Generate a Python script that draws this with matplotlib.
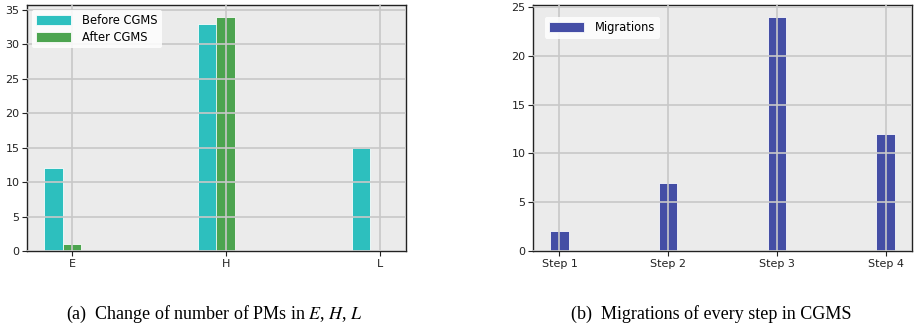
import matplotlib.pyplot as plt
import numpy as np

plt.rcParams['mathtext.fontset'] = 'stix'

groups = ["E", "H", "L"]
before_cgms = [12, 33, 15]
after_cgms = [1, 34, 0]

steps = ["Step 1", "Step 2", "Step 3", "Step 4"]
migrations = [2, 7, 24, 12]

bg = "#EBEBEB"
grid_col = "#C8C8C8"


def style_axes(ax):
    ax.set_facecolor(bg)
    ax.grid(True, color=grid_col, linewidth=1.2)
    ax.set_axisbelow(False)
    for s in ax.spines.values():
        s.set_color("#222222")
        s.set_linewidth(1.0)
    ax.tick_params(labelsize=8, length=3.5, width=0.8, colors="#222222", pad=2)


fig = plt.figure(figsize=(9.14, 3.30), dpi=100)

# (a) PMs in E, H, L
ax1 = fig.add_axes([27/914, 1 - 251/330, (406-27)/914, (251-5)/330])
w = 0.12
x = np.arange(len(groups))
ax1.bar(x - w, before_cgms, w, color="#23BDBC", edgecolor="white", linewidth=0.6, alpha=0.95, label="Before CGMS")
ax1.bar(x, after_cgms, w, color="#43A047", edgecolor="white", linewidth=0.6, alpha=0.95, label="After CGMS")
ax1.set_xticks(x)
ax1.set_xticklabels(groups)
style_axes(ax1)
ax1.legend(loc="upper left", fontsize=8.3, frameon=True, facecolor="white", edgecolor="none",
           framealpha=0.85, handlelength=3.0, handleheight=1.0, borderaxespad=0.4,
           labelspacing=0.3, handletextpad=1.0)

# (b) migrations per step
ax2 = fig.add_axes([533/914, 1 - 251/330, (912-533)/914, (251-5)/330])
x2 = np.arange(len(steps))
ax2.bar(x2, migrations, 0.17, color="#3B45A2", edgecolor="white", linewidth=0.6, alpha=0.95, label="Migrations")
ax2.set_xticks(x2)
ax2.set_xticklabels(steps)
style_axes(ax2)
ax2.legend(loc="upper left", fontsize=8.3, frameon=True, facecolor="white", edgecolor="none",
           framealpha=0.85, handlelength=3.0, handleheight=1.0, borderaxespad=1.0,
           handletextpad=1.0)

fig.text(215/914, 1 - 314/330, r"(a)  Change of number of PMs in $E$, $H$, $L$",
         ha="center", va="center", fontsize=13, family="Liberation Serif")
fig.text(711/914, 1 - 314/330, "(b)  Migrations of every step in CGMS",
         ha="center", va="center", fontsize=13, family="Liberation Serif")

fig.savefig("out.png", dpi=100)
